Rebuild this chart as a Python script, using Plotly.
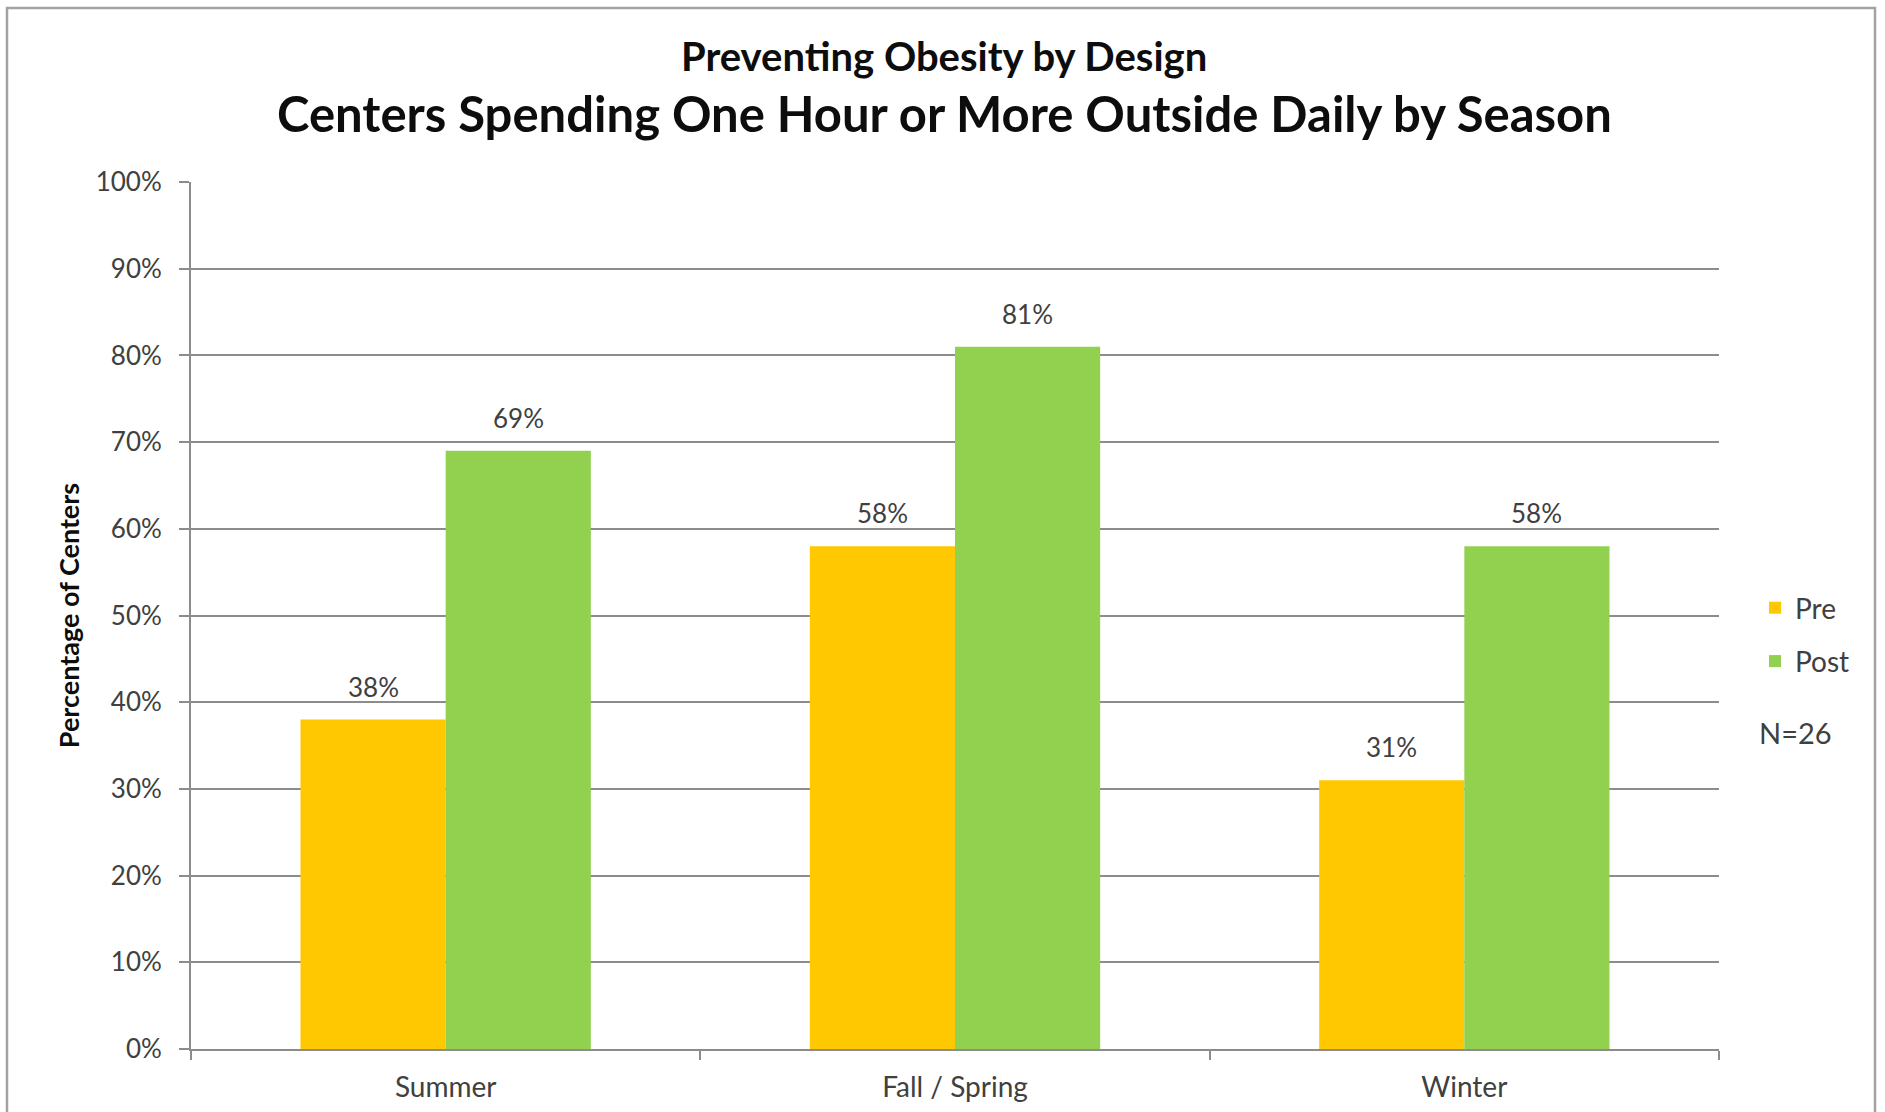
import plotly.graph_objects as go

# Chart data
seasons = ["Summer", "Fall / Spring", "Winter"]
pre_pct = [38, 58, 31]
post_pct = [69, 81, 58]
series_names = ["Pre", "Post"]
y_ticks = list(range(0, 101, 10))
y_tick_labels = [f"{v}%" for v in y_ticks]

PRE_COLOR = "#FFC800"
POST_COLOR = "#92D050"
GRID = "#8C8C8C"
TEXT = "#404040"
FONT = "Lato"

W, H = 1885, 1112
M_L, M_R, M_T, M_B = 191, 166, 182, 63
PW = W - M_L - M_R
PH = H - M_T - M_B


def px_x(p):
    return (p - M_L) / PW


def px_y(p):
    return 1 + (M_T - p) / PH


BARGAP = 0.43
half_offset = (1 - BARGAP) / 4 * PW / len(seasons)

fig = go.Figure()
fig.add_trace(go.Bar(name=series_names[0], x=seasons, y=pre_pct,
                     marker=dict(color=PRE_COLOR, line=dict(width=0)),
                     legendgroup="pre"))
fig.add_trace(go.Bar(name=series_names[1], x=seasons, y=post_pct,
                     marker=dict(color=POST_COLOR, line=dict(width=0)),
                     legendgroup="post"))

annotations = []
# value labels above each bar
for vals, shift in ((pre_pct, -half_offset), (post_pct, half_offset)):
    for s, v in zip(seasons, vals):
        annotations.append(dict(x=s, y=v, xref="x", yref="y", text=f"{v}%",
                                showarrow=False, xshift=shift, yanchor="bottom",
                                yshift=15, font=dict(family=FONT, size=26, color=TEXT)))

# two-line heading
annotations.append(dict(x=px_x(944), y=px_y(56), xref="paper", yref="paper",
                        text="<b>Preventing Obesity by Design</b>", showarrow=False,
                        xanchor="center", yanchor="middle",
                        font=dict(family=FONT, size=40, color="#0D0D0D")))
annotations.append(dict(x=px_x(944), y=px_y(113), xref="paper", yref="paper",
                        text="<b>Centers Spending One Hour or More Outside Daily by Season</b>",
                        showarrow=False, xanchor="center", yanchor="middle",
                        font=dict(family=FONT, size=49, color="#0D0D0D")))
# sample size note
annotations.append(dict(x=px_x(1795), y=px_y(732), xref="paper", yref="paper",
                        text="N=26", showarrow=False, xanchor="center", yanchor="middle",
                        font=dict(family=FONT, size=29, color=TEXT)))

fig.update_layout(
    width=W, height=H,
    margin=dict(l=M_L, r=M_R, t=M_T, b=M_B, autoexpand=False),
    paper_bgcolor="white", plot_bgcolor="white",
    barmode="group", bargap=BARGAP, bargroupgap=0,
    font=dict(family=FONT, color=TEXT),
    showlegend=True,
    legend=dict(x=px_x(1755), y=px_y(583), xanchor="left", yanchor="top",
                font=dict(family=FONT, size=28, color=TEXT),
                traceorder="grouped", tracegroupgap=14, itemwidth=30,
                bgcolor="rgba(0,0,0,0)", borderwidth=0),
    annotations=annotations,
    shapes=[dict(type="rect", xref="paper", yref="paper",
                 x0=px_x(7), x1=px_x(1875), y0=px_y(1130), y1=px_y(8),
                 line=dict(color="#A3A3A3", width=2.5), fillcolor="rgba(0,0,0,0)",
                 layer="below")],
)

fig.update_xaxes(type="category", showgrid=False, showline=True, linecolor=GRID,
                 linewidth=2, ticks="outside", tickson="boundaries", ticklen=9,
                 tickcolor=GRID, tickwidth=2, ticklabelstandoff=12,
                 tickfont=dict(family=FONT, size=28, color=TEXT), zeroline=False)
fig.update_yaxes(range=[0, 100], tickvals=y_ticks, ticktext=y_tick_labels,
                 showgrid=True, gridcolor=GRID, gridwidth=2,
                 showline=True, linecolor=GRID, linewidth=2,
                 ticks="outside", ticklen=10, tickcolor=GRID, tickwidth=2,
                 ticklabelstandoff=12, zeroline=False,
                 tickfont=dict(family=FONT, size=26, color=TEXT),
                 title=dict(text="<b>Percentage of Centers</b>", standoff=8,
                            font=dict(family=FONT, size=27, color="#0D0D0D")))

fig.write_html("out.html")
